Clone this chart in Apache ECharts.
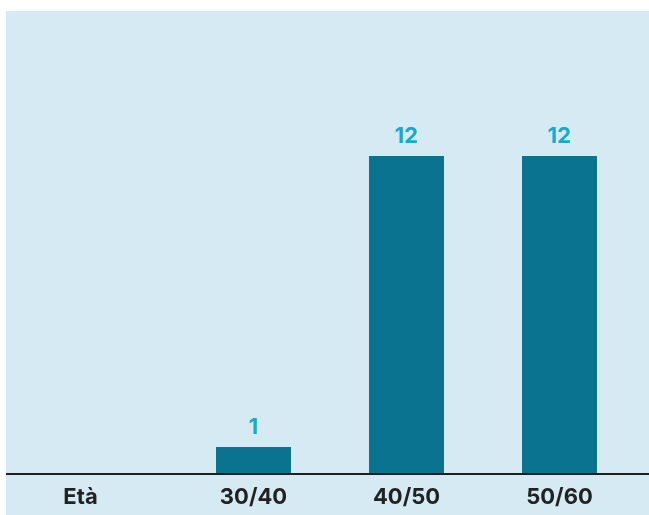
<!DOCTYPE html>
<html>
<head>
<meta charset="utf-8">
<script src="https://cdn.jsdelivr.net/npm/echarts@6/dist/echarts.min.js"></script>
<style>
  html, body { margin: 0; padding: 0; background: #ffffff; }
  #wrap { position: absolute; left: 6px; top: 11px; width: 643px; height: 504px; background: #d6eaf3; }
  #chart { width: 643px; height: 504px; }
  #base { position: absolute; left: 0; top: 461.5px; width: 643px; height: 2px; background: #1f1f1f; pointer-events: none; }
</style>
</head>
<body>
<div id="wrap"><div id="chart"></div><div id="base"></div></div>
<script>
const categories = ['Età', '30/40', '40/50', '50/60'];
const values = [null, 1, 12, 12];

const chart = echarts.init(document.getElementById('chart'), null, { renderer: 'canvas' });
const font = 'Inter, "Liberation Sans", sans-serif';
chart.setOption({
  animation: false,
  backgroundColor: 'transparent',
  grid: { left: 18, right: 13, top: 0, bottom: 41.5 },
  xAxis: {
    type: 'category',
    data: categories,
    axisLine: { show: true, lineStyle: { color: '#1f1f1f', width: 2 } },
    axisTick: { show: false },
    axisLabel: {
      margin: 13,
      color: '#222222',
      fontFamily: font,
      fontSize: 22,
      fontWeight: 700,
      formatter: function (v, i) { return i === 0 ? '{first|' + v + '}' : v; },
      rich: { first: { fontFamily: font, fontSize: 22, fontWeight: 700, color: '#222222', padding: [0, 40, 0, 0] } }
    }
  },
  yAxis: {
    type: 'value',
    min: 0,
    max: 17.48,
    show: false,
    splitLine: { show: false }
  },
  series: [{
    type: 'bar',
    data: values,
    barWidth: 75,
    itemStyle: { color: '#0a7490' },
    label: {
      show: true,
      position: 'top',
      distance: 9,
      color: '#17a9d0',
      fontFamily: font,
      fontSize: 22,
      fontWeight: 700
    }
  }]
});
</script>
</body>
</html>
